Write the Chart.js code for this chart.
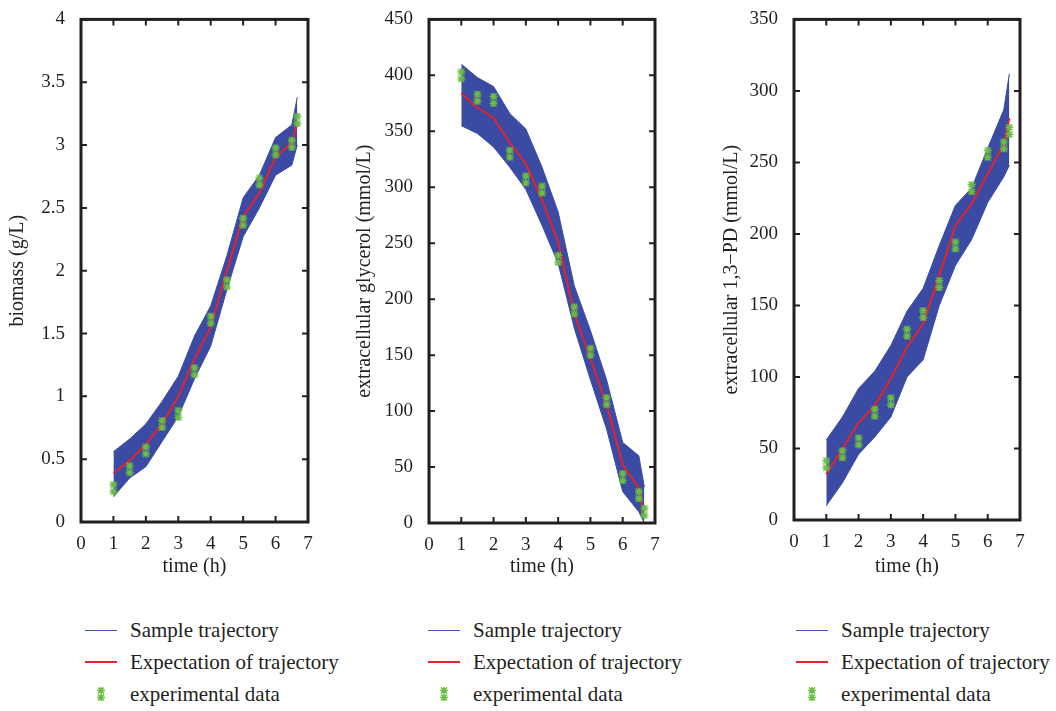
<!DOCTYPE html>
<html>
<head>
<meta charset="utf-8">
<script src="https://cdn.jsdelivr.net/npm/chart.js@4/dist/chart.umd.min.js"></script>
<style>
body { margin: 0; background: #fff; width: 1056px; height: 711px; position: relative; overflow: hidden; font-family: "Liberation Serif", serif; color: #231f20; }
canvas { position: absolute; top: 0; }
.legend { position: absolute; top: 614px; font-size: 21px; }
.legend div { height: 32px; line-height: 32px; position: relative; white-space: nowrap; }
.legend .key { position: absolute; left: 0; width: 32px; }
.legend .txt { position: absolute; left: 45px; }
.legend .blue { top: 16px; height: 0; border-top: 1px solid #3e55b5; }
.legend .red { top: 15px; height: 0; border-top: 2px solid #e5232a; }
.legend img { position: absolute; left: 11px; top: 8px; }
</style>
</head>
<body>
<canvas id="bio" width="330" height="590" style="left:0px"></canvas>
<canvas id="gly" width="330" height="590" style="left:345px"></canvas>
<canvas id="pd" width="350" height="590" style="left:700px"></canvas>

<div class="legend" style="left:85px"></div>
<div class="legend" style="left:428px"></div>
<div class="legend" style="left:796px"></div>

<script>
// sampling times (h)
var times = [1, 1.5, 2, 2.5, 3, 3.5, 4, 4.5, 5, 5.5, 6, 6.5, 6.67];

// biomass (g/L)
var bioExp  = [0.27, 0.42, 0.57, 0.78, 0.86, 1.20, 1.61, 1.90, 2.39, 2.71, 2.95, 3.01, 3.20];
var bioMean = [0.39, 0.49, 0.62, 0.78, 1.00, 1.30, 1.55, 2.00, 2.43, 2.62, 2.90, 3.02, 3.17];
var bioHigh = [0.56, 0.66, 0.78, 0.96, 1.16, 1.48, 1.72, 2.12, 2.58, 2.76, 3.06, 3.16, 3.38];
var bioLow  = [0.20, 0.35, 0.44, 0.64, 0.84, 1.14, 1.40, 1.85, 2.27, 2.50, 2.76, 2.84, 3.00];

// extracellular glycerol (mmol/L)
var glyExp  = [400, 380, 378, 330, 307, 298, 236, 190, 153, 109, 41, 25, 10];
var glyMean = [384, 371, 362, 340, 321, 289, 251, 187, 147, 106, 52, 31, 6];
var glyHigh = [410, 398, 390, 366, 352, 318, 278, 212, 172, 128, 72, 60, 32];
var glyLow  = [355, 348, 336, 318, 298, 266, 232, 174, 128, 84, 28, 10, 0];

// extracellular 1,3-PD (mmol/L)
var pdExp  = [39, 46, 55, 75, 83, 131, 144, 165, 192, 232, 256, 262, 272];
var pdMean = [32, 50, 68, 80, 99, 121, 137, 171, 206, 221, 242, 263, 281];
var pdHigh = [56, 72, 92, 104, 122, 146, 162, 192, 220, 232, 260, 287, 312];
var pdLow  = [10, 26, 46, 58, 72, 100, 112, 150, 178, 196, 222, 240, 248];

var legendLabels = ["Sample trajectory", "Expectation of trajectory", "experimental data"];

var BLUE = "#3b4ba3";
var RED = "#e5232a";
var GREEN = "#6cbd45";
var INK = "#231f20";
var FONT = "Liberation Serif";

// green stacked-asterisk marker
var marker = document.createElement("canvas");
marker.width = 10;
marker.height = 16;
(function () {
    var c = marker.getContext("2d");
    c.strokeStyle = GREEN;
    c.lineWidth = 1.6;
    c.beginPath();
    c.moveTo(5, 1); c.lineTo(5, 15);
    [4.5, 11.5].forEach(function (cy) {
        c.moveTo(1, cy); c.lineTo(9, cy);
        c.moveTo(2, cy - 3); c.lineTo(8, cy + 3);
        c.moveTo(8, cy - 3); c.lineTo(2, cy + 3);
    });
    c.stroke();
})();

function pts(ys) {
    return times.map(function (t, i) { return { x: t, y: ys[i] }; });
}

// box frame with inward tick marks on all four sides
var framePlugin = {
    id: "frame",
    afterDraw: function (chart) {
        var ctx = chart.ctx, a = chart.chartArea;
        var xs = chart.scales.x, ys = chart.scales.y;
        ctx.save();
        ctx.strokeStyle = INK;
        ctx.lineWidth = 2;
        ctx.beginPath();
        xs.ticks.forEach(function (t) {
            var px = xs.getPixelForValue(t.value);
            ctx.moveTo(px, a.bottom); ctx.lineTo(px, a.bottom - 6);
            ctx.moveTo(px, a.top); ctx.lineTo(px, a.top + 6);
        });
        ys.ticks.forEach(function (t) {
            var py = ys.getPixelForValue(t.value);
            ctx.moveTo(a.left, py); ctx.lineTo(a.left + 6, py);
            ctx.moveTo(a.right, py); ctx.lineTo(a.right - 6, py);
        });
        ctx.stroke();
        ctx.lineWidth = 3;
        ctx.strokeRect(a.left, a.top, a.right - a.left, a.bottom - a.top);
        ctx.restore();
    }
};

function makePanel(id, cfg) {
    new Chart(id, {
        type: "line",
        data: {
            datasets: [{
                data: pts(cfg.exp),
                showLine: false,
                pointStyle: marker,
                pointRadius: 6,
                clip: false,
                order: 0
            }, {
                data: pts(cfg.mean),
                borderColor: RED,
                borderWidth: 2,
                pointRadius: 0,
                fill: false,
                order: 1
            }, {
                data: pts(cfg.high),
                borderColor: BLUE,
                borderWidth: 1,
                backgroundColor: BLUE,
                pointRadius: 0,
                fill: "+1",
                order: 2
            }, {
                data: pts(cfg.low),
                borderColor: BLUE,
                borderWidth: 1,
                pointRadius: 0,
                fill: false,
                order: 3
            }]
        },
        options: {
            responsive: false,
            animation: false,
            layout: { padding: { top: cfg.top, right: cfg.right, left: 0, bottom: 0 } },
            plugins: { legend: { display: false }, tooltip: { enabled: false } },
            scales: {
                x: {
                    type: "linear",
                    min: 0, max: 7,
                    grid: { display: false },
                    border: { display: false },
                    ticks: { stepSize: 1, color: INK, padding: 3, font: { family: FONT, size: 19 } },
                    title: { display: true, text: "time (h)", color: INK, padding: { top: 0, bottom: 11 }, font: { family: FONT, size: 20 } },
                    afterFit: function (s) { s.height = 590 - cfg.bottom; }
                },
                y: {
                    min: 0, max: cfg.max,
                    grid: { display: false },
                    border: { display: false },
                    ticks: {
                        stepSize: cfg.step, color: INK, padding: 8,
                        font: { family: FONT, size: 19 },
                        callback: function (v) { return String(+v.toFixed(2)); }
                    },
                    title: { display: true, text: cfg.title, color: INK, padding: { top: cfg.titlePad, bottom: 0 }, font: { family: FONT, size: 20 } },
                    afterFit: function (s) { s.width = cfg.axisW; }
                }
            }
        },
        plugins: [framePlugin]
    });
}

makePanel("bio", { exp: bioExp, mean: bioMean, high: bioHigh, low: bioLow, max: 4, step: 0.5,
    title: "biomass (g/L)", top: 15, bottom: 522, right: 22, axisW: 81, titlePad: 6 });
makePanel("gly", { exp: glyExp, mean: glyMean, high: glyHigh, low: glyLow, max: 450, step: 50,
    title: "extracellular glycerol (mmol/L)", top: 15, bottom: 523, right: 20, axisW: 84, titlePad: 8 });
makePanel("pd", { exp: pdExp, mean: pdMean, high: pdHigh, low: pdLow, max: 350, step: 50,
    title: "extracellular 1,3\u2212PD (mmol/L)", top: 14, bottom: 520, right: 30, axisW: 94, titlePad: 20 });

// legends under each panel
var markerUrl = marker.toDataURL();
document.querySelectorAll(".legend").forEach(function (box) {
    box.innerHTML =
        '<div><span class="key blue"></span><span class="txt">' + legendLabels[0] + '</span></div>' +
        '<div><span class="key red"></span><span class="txt">' + legendLabels[1] + '</span></div>' +
        '<div><img src="' + markerUrl + '" alt=""><span class="txt">' + legendLabels[2] + '</span></div>';
});
</script>
</body>
</html>
